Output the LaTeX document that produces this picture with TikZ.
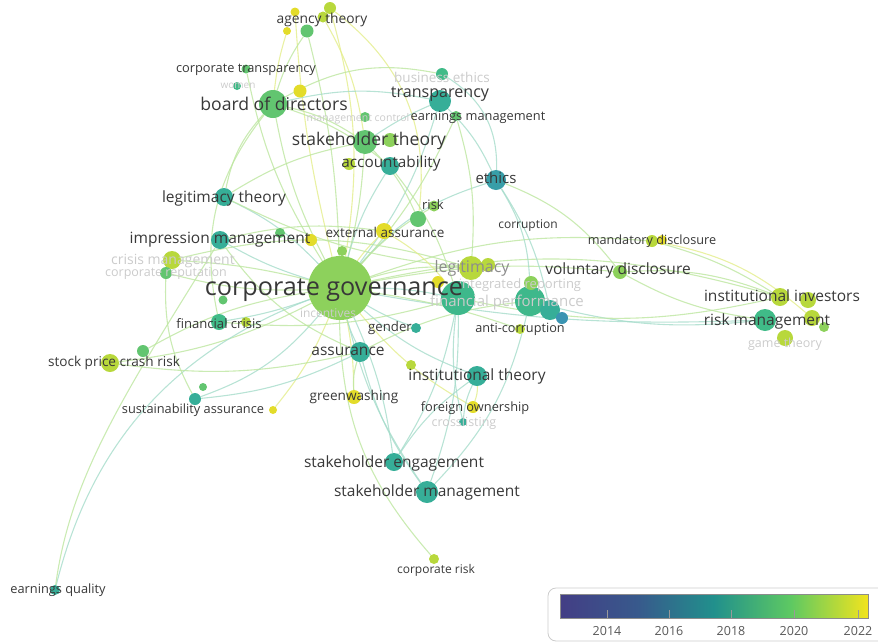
\documentclass[tikz,border=0pt]{standalone}
\usepackage{fontspec}
\setmainfont{Open Sans}
\usetikzlibrary{backgrounds}
\definecolor{cyel}{HTML}{E3DC2A}
\definecolor{cyg}{HTML}{B8D83C}
\definecolor{clg}{HTML}{8DD15C}
\definecolor{cgr}{HTML}{62C570}
\definecolor{ctg}{HTML}{40BB88}
\definecolor{cte}{HTML}{36AE98}
\definecolor{cbl}{HTML}{3A94B2}
\definecolor{edgeg}{HTML}{BDE6A0}
\definecolor{edget}{HTML}{A6DCCB}
\definecolor{edgey}{HTML}{E4ED8C}
\definecolor{txt}{HTML}{383838}
\definecolor{faint}{HTML}{CBCBCB}
\definecolor{vA}{HTML}{433E85}
\definecolor{vB}{HTML}{38598C}
\definecolor{vC}{HTML}{21908C}
\definecolor{vD}{HTML}{5EC962}
\definecolor{vE}{HTML}{F2E41E}
\pgfdeclarehorizontalshading{viridis}{100bp}{color(0bp)=(vA); color(25bp)=(vA); color(37.5bp)=(vB); color(50bp)=(vC); color(62.5bp)=(vD); color(75bp)=(vE); color(100bp)=(vE)}
\newcommand{\fs}[1]{\fontsize{#1}{#1}\selectfont}
\tikzset{
  dot/.style={circle, inner sep=0pt, minimum size=#1, draw=none},
  lab/.style={text=txt, inner sep=0pt},
  flab/.style={text=faint, inner sep=0pt},
  eg/.style={draw=edgeg, line width=1.1pt, opacity=0.8},
  et/.style={draw=edget, line width=1.1pt, opacity=0.8},
  ey/.style={draw=edgey, line width=1.1pt, opacity=0.8},
}
\begin{document}
\begin{tikzpicture}[x=1pt,y=-1pt]
\useasboundingbox (0,0) rectangle (878,643);
% ---------------- nodes (circles)
\node[dot=64, fill=clg] (cg) at (340,288) {};
\node[dot=28, fill=cgr] (bod) at (273,104) {};
\node[dot=9, fill=cyel] (ag1) at (295,12) {};
\node[dot=13, fill=cgr] (ag2) at (307,31) {};
\node[dot=11, fill=cyg] (ag3) at (323,17) {};
\node[dot=12, fill=cyg] (ag4) at (330,8) {};
\node[dot=8, fill=cyel] (ag5) at (287,31) {};
\node[dot=9, fill=cgr] (ct) at (246,69) {};
\node[dot=8, fill=ctg] (wo) at (237,86) {};
\node[dot=13, fill=cyel] (by) at (300,91) {};
\node[dot=12, fill=ctg] (be) at (442,74) {};
\node[dot=22, fill=cte] (tr) at (440,101) {};
\node[dot=10, fill=cgr] (em) at (456,116) {};
\node[dot=10, fill=cgr] (mc) at (365,117) {};
\node[dot=24, fill=cgr] (st) at (365,142) {};
\node[dot=14, fill=clg] (st2) at (390,140) {};
\node[dot=18, fill=cte] (acc) at (390,166) {};
\node[dot=12, fill=cyg] (accy) at (349,164) {};
\node[dot=20, fill=cbl!60!cte] (eth) at (496,180) {};
\node[dot=18, fill=cte] (lt) at (224,197) {};
\node[dot=11, fill=clg] (risk) at (434,206) {};
\node[dot=16, fill=cgr] (riskb) at (418,219) {};
\node[dot=16, fill=cyel] (ea) at (384,231) {};
\node[dot=18, fill=cte] (im) at (220,240) {};
\node[dot=12, fill=cyel] (imy) at (311,240) {};
\node[dot=10, fill=cgr] (imy2) at (280,233) {};
\node[dot=18, fill=cyg] (cm) at (172,260) {};
\node[dot=12, fill=cgr] (cr) at (166,273) {};
\node[dot=10, fill=clg] (cgn) at (342,251) {};
\node[dot=12, fill=cyg] (md) at (652,241) {};
\node[dot=10, fill=cyel] (mdy) at (662,240) {};
\node[dot=14, fill=clg] (vd) at (620,272) {};
\node[dot=24, fill=cyg] (leg) at (471,268) {};
\node[dot=14, fill=cyg] (leg2) at (488,265) {};
\node[dot=12, fill=cyel] (gy) at (438,282) {};
\node[dot=34, fill=ctg!80!cte] (bt) at (458,298) {};
\node[dot=30, fill=ctg!80!cte] (bt2) at (530,301) {};
\node[dot=20, fill=cte] (bt3) at (550,310) {};
\node[dot=12, fill=cbl] (bt4) at (562,318) {};
\node[dot=14, fill=clg] (bt5) at (531,283) {};
\node[dot=18, fill=cyg] (ii) at (780,297) {};
\node[dot=16, fill=cyg] (ii2) at (808,300) {};
\node[dot=22, fill=ctg] (rm) at (765,320) {};
\node[dot=16, fill=cyg] (rm2) at (812,318) {};
\node[dot=10, fill=clg] (rm3) at (824,327) {};
\node[dot=16, fill=cyg] (rm4) at (785,338) {};
\node[dot=16, fill=ctg] (fc) at (219,322) {};
\node[dot=10, fill=cyg] (fcy) at (246,322) {};
\node[dot=9, fill=cgr] (sn) at (223,300) {};
\node[dot=10, fill=cte] (gen) at (416,328) {};
\node[dot=10, fill=cyg] (ac) at (520,329) {};
\node[dot=18, fill=cyg] (sp) at (110,363) {};
\node[dot=12, fill=cgr] (sp2) at (143,351) {};
\node[dot=20, fill=cte] (as) at (360,352) {};
\node[dot=20, fill=cte] (it) at (477,376) {};
\node[dot=10, fill=cyg] (ity) at (411,365) {};
\node[dot=12, fill=cte] (sa) at (195,399) {};
\node[dot=8, fill=cgr] (sa2) at (203,387) {};
\node[dot=8, fill=cyel] (say) at (273,410) {};
\node[dot=14, fill=cyel] (gw) at (354,397) {};
\node[dot=12, fill=cyel] (fo) at (473,407) {};
\node[dot=8, fill=cte] (cl) at (463,422) {};
\node[dot=18, fill=cte] (se) at (394,462) {};
\node[dot=22, fill=cte] (sm) at (427,492) {};
\node[dot=10, fill=cyg] (crk) at (434,559) {};
\node[dot=10, fill=cte] (eq) at (55,590) {};
% ---------------- connectors
\begin{scope}[on background layer]
\draw[eg] (cg) to[bend left=8] (bod);
\draw[ey] (cg) to[bend left=5] (ag1);
\draw[eg] (cg) to[bend right=6] (ag2);
\draw[ey] (cg) to[bend right=12] (ag4);
\draw[ey] (ag5) to[bend right=5] (bod);
\draw[eg] (ag2) to[bend right=8] (bod);
\draw[ey] (ag4) to[bend left=30] (riskb);
\draw[ey] (ag3) to[bend left=10] (st);
\draw[eg] (bod) to[bend left=20] (be);
\draw[et] (bod) to[bend left=12] (tr);
\draw[eg] (bod) to[bend left=10] (st);
\draw[eg] (bod) to[bend right=15] (lt);
\draw[eg] (bod) to[bend right=25] (fc);
\draw[eg] (bod) to[bend left=10] (acc);
\draw[eg] (ct) to[bend right=10] (cg);
\draw[eg] (cg) to[bend right=5] (st);
\draw[et] (cg) to[bend left=8] (acc);
\draw[et] (cg) to[bend right=10] (tr);
\draw[eg] (cg) to[bend right=8] (em);
\draw[et] (cg) to[bend right=10] (lt);
\draw[et] (cg) to[bend left=6] (im);
\draw[eg] (cg) to[bend right=5] (cm);
\draw[eg] (cg) to[bend left=8] (cr);
\draw[et] (cg) to[bend left=5] (fc);
\draw[eg] (cg) to[bend left=10] (sp);
\draw[eg] (cg) to[bend right=10] (sp2);
\draw[et] (cg) to[bend left=15] (sa);
\draw[ey] (cg) to[bend left=8] (say);
\draw[et] (eq) .. controls (85,470) and (150,360) .. (cg);
\draw[eg] (eq) .. controls (70,480) and (120,400) .. (im);
\draw[et] (cg) to[bend right=5] (as);
\draw[ey] (cg) to[bend left=5] (gw);
\draw[et] (cg) to[bend right=10] (it);
\draw[et] (cg) to[bend left=8] (se);
\draw[et] (cg) to[bend right=10] (sm);
\draw[eg] (cg) to[bend right=20] (crk);
\draw[et] (cg) to[bend left=5] (bt);
\draw[eg] (cg) to[bend left=10] (leg);
\draw[eg] (cg) to[bend left=8] (vd);
\draw[eg] (cg) to[bend left=12] (md);
\draw[eg] (cg) to[bend left=14] (ii);
\draw[et] (cg) to[bend right=6] (rm);
\draw[et] (cg) to[bend left=15] (eth);
\draw[eg] (cg) to[bend left=8] (risk);
\draw[ey] (cg) to[bend left=5] (ea);
\draw[et] (cg) to[bend right=5] (gen);
\draw[ey] (cg) to[bend right=10] (fo);
\draw[eg] (cg) to[bend left=5] (ac);
\draw[et] (tr) to[bend left=10] (eth);
\draw[et] (be) to[bend left=30] (eth);
\draw[et] (eth) to[bend left=15] (bt2);
\draw[et] (eth) to[bend left=10] (bt3);
\draw[eg] (eth) to[bend left=15] (vd);
\draw[et] (tr) to[bend right=5] (st);
\draw[eg] (em) to[bend left=10] (leg);
\draw[eg] (vd) to[bend left=12] (ii);
\draw[eg] (vd) to[bend right=10] (rm);
\draw[eg] (md) to[bend left=8] (ii);
\draw[ey] (md) to[bend left=15] (rm2);
\draw[et] (bt2) to[bend right=10] (rm);
\draw[eg] (bt) to[bend right=12] (ii);
\draw[et] (bt) to[bend left=10] (sm);
\draw[et] (bt2) to[bend left=15] (sm);
\draw[et] (bt) to[bend left=10] (se);
\draw[et] (it) to[bend right=10] (se);
\draw[ey] (it) to[bend left=10] (fo);
\draw[et] (cl) to[bend left=10] (it);
\draw[et] (cl) to[bend left=10] (bt);
\draw[et] (sm) to[bend left=10] (as);
\draw[eg] (lt) to[bend left=10] (st);
\draw[eg] (im) to[bend left=10] (ea);
\draw[eg] (im) to[bend right=15] (as);
\draw[eg] (lt) to[bend right=10] (leg);
\draw[eg] (sp) to[bend right=10] (as);
\draw[et] (sa) to[bend right=10] (as);
\draw[eg] (fc) to[bend right=10] (bt);
\draw[eg] (cm) to[bend left=15] (leg);
\draw[eg] (cr) to[bend right=15] (sa);
\draw[eg] (st) to[bend left=10] (riskb);
\draw[eg] (acc) to[bend left=10] (bt);
\draw[ey] (ea) to[bend left=10] (bt);
\draw[eg] (gw) to[bend left=10] (as);
\draw[eg] (as) to[bend left=10] (bt2);
\end{scope}
% ---------------- labels
\node[flab, font=\fs{10}] (l-wo) at (238,86) {women};
\node[flab, font=\fs{13.5}] (l-be) at (442,77) {business ethics};
\node[flab, font=\fs{10.5}] (l-mc) at (358,119) {management control};
\node[flab, font=\fs{12.5}] (l-cr) at (166,273) {corporate reputation};
\node[flab, font=\fs{14}] (l-cm) at (173,261) {crisis management};
\node[flab, font=\fs{12}] (l-inc) at (328,313) {incentives};
\node[flab, font=\fs{13}] (l-sr) at (520,285) {integrated reporting};
\node[flab, font=\fs{15}] (l-fp) at (507,303) {financial performance};
\node[flab, font=\fs{12.5}] (l-gt) at (785,344) {game theory};
\node[flab, font=\fs{12.5}] (l-cl) at (464,423) {crosslisting};
\node[text=black!45, inner sep=0pt, font=\fs{16}] (l-leg) at (472,268) {legitimacy};
\node[lab, font=\fs{25.2}] (l-cg) at (334,290) {corporate governance};
\node[lab, font=\fs{17.6}] (l-bod) at (274,104) {board of directors};
\node[lab, font=\fs{13.8}] (l-ag) at (322,20) {agency theory};
\node[lab, font=\fs{12.8}] (l-ct) at (246,70) {corporate transparency};
\node[lab, font=\fs{16.1}] (l-tr) at (440,94) {transparency};
\node[lab, font=\fs{12.8}] (l-em) at (478,117) {earnings management};
\node[lab, font=\fs{17.5}] (l-st) at (369,141) {stakeholder theory};
\node[lab, font=\fs{15.3}] (l-acc) at (391,164) {accountability};
\node[lab, font=\fs{15}] (l-eth) at (496,178) {ethics};
\node[lab, font=\fs{15.5}] (l-lt) at (224,198) {legitimacy theory};
\node[lab, font=\fs{13}] (l-risk) at (433,205) {risk};
\node[lab, font=\fs{13.5}] (l-ea) at (385,232) {external assurance};
\node[lab, font=\fs{12}] (l-cor) at (528,226) {corruption};
\node[lab, font=\fs{15.5}] (l-im) at (220,240) {impression management};
\node[lab, font=\fs{12.7}] (l-md) at (652,241) {mandatory disclosure};
\node[lab, font=\fs{15.5}] (l-vd) at (618,270) {voluntary disclosure};
\node[lab, font=\fs{15.5}] (l-ii) at (782,296) {institutional investors};
\node[lab, font=\fs{15.5}] (l-rm) at (767,321) {risk management};
\node[lab, font=\fs{13.1}] (l-fc) at (219,324) {financial crisis};
\node[lab, font=\fs{13.2}] (l-gen) at (390,328) {gender};
\node[lab, font=\fs{12.7}] (l-ac) at (520,329) {anti-corruption};
\node[lab, font=\fs{13.6}] (l-sp) at (114,363) {stock price crash risk};
\node[lab, font=\fs{15.5}] (l-as) at (348,351) {assurance};
\node[lab, font=\fs{15.5}] (l-it) at (477,376) {institutional theory};
\node[lab, font=\fs{12.8}] (l-sa) at (193,410) {sustainability assurance};
\node[lab, font=\fs{13.6}] (l-gw) at (354,397) {greenwashing};
\node[lab, font=\fs{12.8}] (l-fo) at (475,408) {foreign ownership};
\node[lab, font=\fs{15.5}] (l-se) at (394,463) {stakeholder engagement};
\node[lab, font=\fs{15.5}] (l-sm) at (427,492) {stakeholder management};
\node[lab, font=\fs{12}] (l-crk) at (436,570) {corporate risk};
\node[lab, font=\fs{12.8}] (l-eq) at (58,590) {earnings quality};
% ---------------- legend
\draw[draw=black!20, fill=white, rounded corners=8pt, line width=0.8pt] (548,588) rectangle (890,641);
\shade[shading=viridis] (560,594) rectangle (868,618);
\draw[black!45, line width=0.6pt] (560,594) rectangle (868,618);
\foreach \x/\y in {607/2014,669/2016,731/2018,794/2020,858/2022}{
  \draw[black!40, line width=0.8pt] (\x,610) -- (\x,618);
  \node[text=black!65, inner sep=0pt, font=\fs{12.5}] at (\x,631) {\y};
}
\end{tikzpicture}
\end{document}
